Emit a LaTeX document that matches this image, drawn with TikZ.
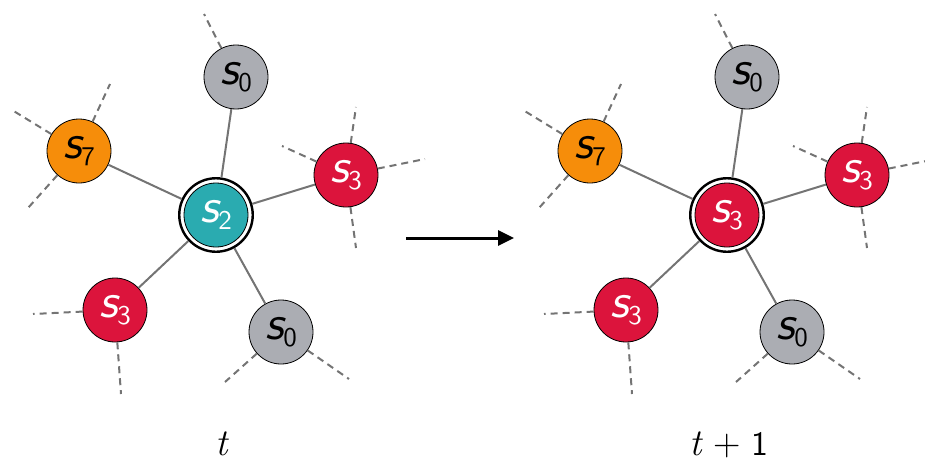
\documentclass[tikz,border=0pt]{standalone}
\usepackage{fontspec}
\usetikzlibrary{arrows.meta}

\newfontfamily\stateslant{lmsans10-oblique.otf}
\newfontfamily\stateupright{lmsans10-regular.otf}

\definecolor{nodegray}{HTML}{ABADB3}
\definecolor{nodeteal}{HTML}{2AABB0}
\definecolor{nodered}{HTML}{DC143C}
\definecolor{nodeorange}{HTML}{F68D0A}
\definecolor{edgegray}{HTML}{747474}

\tikzset{
  state/.style={circle, draw=black, line width=0.8pt, minimum size=64pt, inner sep=0pt},
  gray state/.style={state, fill=nodegray, text=black},
  red state/.style={state, fill=nodered, text=white},
  orange state/.style={state, fill=nodeorange, text=black},
  teal state/.style={state, fill=nodeteal, text=white},
  ring/.style={circle, draw=black, line width=2.4pt, fill=white, minimum size=73.5pt, inner sep=0pt},
  link/.style={draw=edgegray, line width=2pt},
  stub/.style={draw=edgegray, line width=2pt, dash pattern=on 7pt off 5pt},
  caption/.style={anchor=base, inner sep=0pt, font=\fontsize{38}{40}\selectfont},
}

% state label s_k in slanted sans
\newcommand\slab[1]{{\stateslant\fontsize{48}{50}\selectfont s}\raisebox{-7pt}{\stateupright\fontsize{27}{28}\selectfont #1}}

% one neighbourhood: #1 name prefix, #2 horizontal shift, #3 centre style, #4 centre digit
\newcommand\neighbourhood[4]{%
  \begin{scope}[xshift=#2]
    \node[ring] (#1c) at (216,215) {};
    \node[#3] (#1ci) at (216,215) {\slab{#4}};
    \node[gray state]   (#1a) at (236,77)  {\slab{0}};
    \node[orange state] (#1b) at (79,151)  {\slab{7}};
    \node[red state]    (#1d) at (346,175) {\slab{3}};
    \node[red state]    (#1e) at (115,310) {\slab{3}};
    \node[gray state]   (#1f) at (281,332) {\slab{0}};
    % loose ends towards the rest of the lattice
    \coordinate (#1a1) at (204,14);
    \coordinate (#1b1) at (110,84);
    \coordinate (#1b2) at (12,110);
    \coordinate (#1b3) at (28,208);
    \coordinate (#1d1) at (356,107);
    \coordinate (#1d2) at (282,146);
    \coordinate (#1d3) at (425,159);
    \coordinate (#1d4) at (356,248);
    \coordinate (#1e1) at (33,314);
    \coordinate (#1e2) at (121,394);
    \coordinate (#1f1) at (225,382);
    \coordinate (#1f2) at (349,379);
  \end{scope}
  \foreach \n in {a,b,d,e,f} \draw[link] (#1c) -- (#1\n);
  \draw[stub] (#1a) -- (#1a1);
  \draw[stub] (#1b) -- (#1b1);
  \draw[stub] (#1b) -- (#1b2);
  \draw[stub] (#1b) -- (#1b3);
  \draw[stub] (#1d) -- (#1d1);
  \draw[stub] (#1d) -- (#1d2);
  \draw[stub] (#1d) -- (#1d3);
  \draw[stub] (#1d) -- (#1d4);
  \draw[stub] (#1e) -- (#1e1);
  \draw[stub] (#1e) -- (#1e2);
  \draw[stub] (#1f) -- (#1f1);
  \draw[stub] (#1f) -- (#1f2);
}

\begin{document}
\begin{tikzpicture}[x=1pt, y=-1pt]
  \useasboundingbox (0,0) rectangle (925,460);

  \neighbourhood{L}{0pt}{teal state}{2}
  \neighbourhood{R}{511pt}{red state}{3}

  % time step
  \coordinate (arrS) at (406,238);
  \coordinate (arrE) at (514,238);
  \draw[line width=3pt, -{Triangle[length=16pt,width=15pt]}] (arrS) -- (arrE);

  \node[caption] (tL) at (221.5,455) {\itshape t};
  \node[caption] (tR) at (729,455) {\itshape t\kern11pt\upshape +\kern11pt{\stateupright\fontsize{34}{36}\selectfont 1}};
\end{tikzpicture}
\end{document}
